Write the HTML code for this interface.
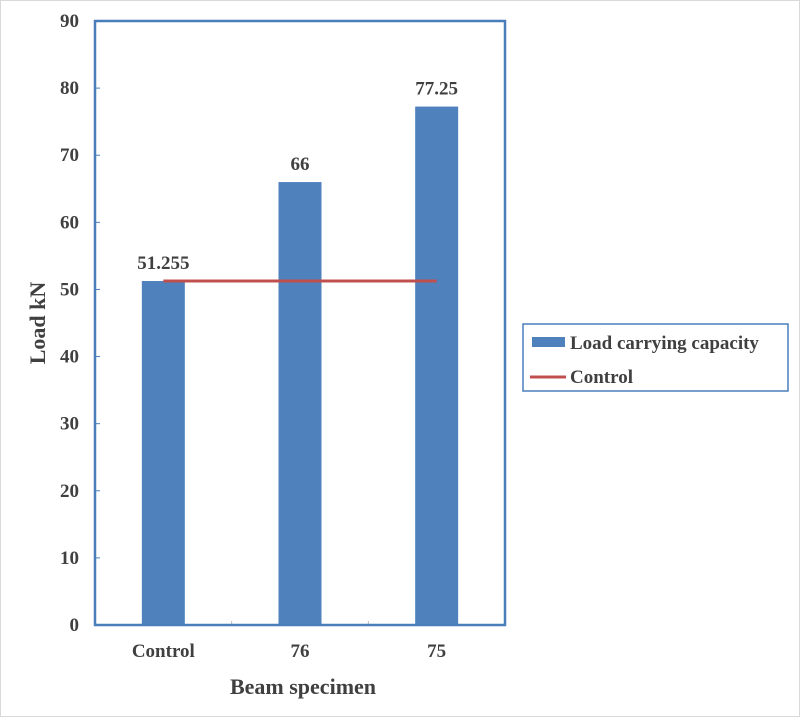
<!DOCTYPE html>
<html><head><meta charset="utf-8"><style>
body{margin:0;background:#fff;}
svg text{font-family:"Liberation Serif",serif;font-weight:bold;fill:#404040;}
</style></head><body>
<svg width="800" height="719">
<rect x="0.5" y="0.5" width="799" height="716" fill="#fff" stroke="#d9d9d9"/>
<g id="plot"></g>
<text x="303" y="694" font-size="22" text-anchor="middle">Beam specimen</text>
<text transform="translate(45,323) rotate(-90)" font-size="22" text-anchor="middle">Load kN</text>
<g>
<rect x="523" y="324" width="265" height="67" fill="#fff" stroke="#4a7ebb" stroke-width="1.5"/>
<rect x="532" y="337" width="33" height="10" fill="#4f81bd"/>
<text x="570" y="349" font-size="19">Load carrying capacity</text>
<line x1="530" y1="377" x2="566" y2="377" stroke="#c0504d" stroke-width="3"/>
<text x="570" y="383" font-size="19">Control</text>
</g>
</svg>
<script>
const categories=["Control","76","75"];
const values=[51.255,66,77.25];
const labels=["51.255","66","77.25"];
const controlValue=[51.255];
const yTicks=[0,10,20,30,40,50,60,70,80,90];
const L=95,R=505,T=21,B=625,ymax=90;
const y=v=>B-(v/ymax)*(B-T);
const bw=(R-L)/categories.length;
const xc=i=>L+bw*(i+0.5);
const NS="http://www.w3.org/2000/svg";
const g=document.getElementById('plot');
function mk(t,a){const e=document.createElementNS(NS,t);for(const k in a)e.setAttribute(k,a[k]);g.appendChild(e);return e;}
yTicks.forEach(v=>{
 const t=mk('text',{x:79,y:y(v)+6,'font-size':19,'text-anchor':'end'});t.textContent=v;
 
 
 const l=mk('line',{x1:L,x2:L+5,y1:y(v),y2:y(v),stroke:'#4a7ebb','stroke-width':1});
 
 
});
categories.forEach((c,i)=>{
 const r=mk('rect',{x:xc(i)-21.5,y:y(values[i]),width:43,height:B-y(values[i]),fill:'#4f81bd'});
 
 
 const t=mk('text',{x:xc(i),y:y(values[i])-12,'font-size':19,'text-anchor':'middle'});t.textContent=labels[i];
 
 
 const x=mk('text',{x:xc(i),y:B+32,'font-size':19,'text-anchor':'middle'});x.textContent=c;
 
 
 if(i>0){const tm=mk('line',{x1:L+bw*i,x2:L+bw*i,y1:B-4,y2:B,stroke:'#bbb'});
 
 }
});
const ln=mk('line',{x1:xc(0),x2:xc(categories.length-1),y1:y(controlValue[0]),y2:y(controlValue[0]),stroke:'#c0504d','stroke-width':3});


const fr=mk('rect',{x:L,y:T,width:R-L,height:B-T,fill:'none',stroke:'#4a7ebb','stroke-width':2.5});


</script>
</body></html>
